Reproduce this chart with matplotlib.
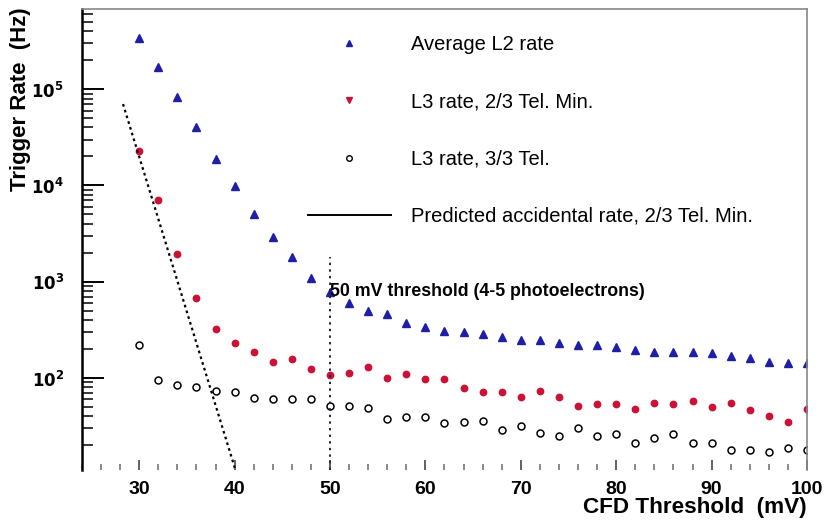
import math

import matplotlib
matplotlib.use("Agg")
import matplotlib.pyplot as plt
from matplotlib.lines import Line2D
from matplotlib.ticker import MultipleLocator, LogLocator, FuncFormatter, NullFormatter

plt.rcParams["font.family"] = ["Liberation Sans", "DejaVu Sans"]

# CFD threshold scan (mV) and measured rates (Hz)
threshold = list(range(30, 101, 2))
l2_rate = [3.4e5, 1.7e5, 8.3e4, 4.0e4, 1.9e4, 9.8e3, 5.1e3, 2.9e3, 1.8e3, 1.1e3,
           7.9e2, 6.0e2, 5.0e2, 4.6e2, 3.7e2, 3.4e2, 3.1e2, 3.0e2, 2.9e2, 2.7e2,
           2.5e2, 2.5e2, 2.3e2, 2.2e2, 2.2e2, 2.1e2, 1.95e2, 1.87e2, 1.87e2, 1.87e2,
           1.8e2, 1.7e2, 1.6e2, 1.48e2, 1.42e2, 1.42e2]
l3_two = [2.3e4, 7.1e3, 1.95e3, 6.8e2, 3.2e2, 2.3e2, 1.87e2, 1.48e2, 1.58e2, 1.24e2,
          1.07e2, 1.12e2, 1.3e2, 1.01e2, 1.1e2, 97, 97, 79, 71, 71,
          63, 74, 63, 51, 54, 54, 48, 55, 54, 58,
          50, 55, 47, 40, 35, 48]
l3_three = [2.2e2, 96, 85, 80, 74, 71, 62, 60, 60, 60,
            51, 51, 49, 38, 39, 39, 34, 35, 36, 29,
            32, 27, 25, 30, 25, 26, 21, 24, 26, 21,
            21, 18, 18, 17, 19, 18]

# predicted accidental rate for 2/3 telescope coincidence
pred_x = [28.3, 40.1]
pred_y = [7.0e4, 11.0]

cut_x = 50
cut_top = 1.8e3

BLUE = "#1f1fa6"
RED = "#cc1136"

fig = plt.figure(figsize=(8.28, 5.23), dpi=100, facecolor="white")
ax = fig.add_axes([82 / 828, 1 - 470 / 523, 725 / 828, 461 / 523])
ax.set_yscale("log")
ax.set_xlim(24, 100)
ax.set_ylim(11.1, 6.8e5)

ax.plot(threshold, l2_rate, ls="none", marker="^", ms=5.2, color=BLUE, mec=BLUE)
ax.plot(threshold, l3_two, ls="none", marker="o", ms=4.6, color=RED, mec=RED)
ax.plot(threshold, l3_three, ls="none", marker="o", ms=5, mfc="none", mec="black", mew=1.1)
ax.plot(pred_x, pred_y, color="black", lw=1.6, ls=(0, (1.2, 1.5)))
ax.plot([cut_x, cut_x], [ax.get_ylim()[0], cut_top], color="#202040", lw=1.4, ls=(0, (1.2, 2.2)))
ax.text(cut_x, 7.9e2, "50 mV threshold (4-5 photoelectrons)", fontsize=12.8,
        fontweight="bold", va="center", ha="left")

handles = [
    Line2D([], [], ls="none", marker="^", ms=5, color=BLUE),
    Line2D([], [], ls="none", marker="v", ms=5, color=RED),
    Line2D([], [], ls="none", marker="o", ms=4, mfc="none", mec="black"),
    Line2D([], [], color="black", lw=1.4),
]
labels = ["Average L2 rate", "L3 rate, 2/3 Tel. Min.", "L3 rate, 3/3 Tel.",
          "Predicted accidental rate, 2/3 Tel. Min."]
ax.legend(handles, labels, loc="upper left", bbox_to_anchor=(298 / 828, 1 - 25 / 523),
          bbox_transform=fig.transFigure, frameon=False, fontsize=14.5,
          handlelength=4.1, handletextpad=1.0, labelspacing=1.9, borderpad=0)

# axis frame: heavy left axis, light top/right, no bottom line
for side in ("top", "right"):
    ax.spines[side].set_color("#888888")
    ax.spines[side].set_linewidth(1.2)
ax.spines["left"].set_linewidth(1.8)
ax.spines["bottom"].set_visible(False)

ax.xaxis.set_major_locator(MultipleLocator(10))
ax.xaxis.set_minor_locator(MultipleLocator(2))
ax.yaxis.set_major_locator(LogLocator(base=10, numticks=10))
ax.yaxis.set_minor_locator(LogLocator(base=10, subs=range(2, 10), numticks=20))
ax.yaxis.set_major_formatter(FuncFormatter(lambda v, p: r"$\mathbf{10^{%d}}$" % round(math.log10(v))))
ax.yaxis.set_minor_formatter(NullFormatter())
ax.xaxis.set_major_formatter(FuncFormatter(lambda v, p: "%d" % v if v >= 30 else ""))

ax.tick_params(axis="x", which="major", direction="in", length=7, width=1.3, color="#555555",
               pad=8, labelsize=14)
ax.tick_params(axis="x", which="minor", direction="in", length=4, width=1.2, color="#777777")
ax.tick_params(axis="y", which="major", direction="in", length=16, width=1.4, pad=13, labelsize=12)
ax.tick_params(axis="y", which="minor", direction="in", length=8, width=1.1)
for lbl in ax.get_xticklabels():
    lbl.set_fontweight("bold")

fig.text(807 / 828, 1 - 507 / 523, "CFD Threshold  (mV)", fontsize=16.2, fontweight="bold",
         ha="right", va="center")
fig.text(21 / 828, 1 - 7 / 523, "Trigger Rate  (Hz)", fontsize=16, fontweight="bold",
         ha="center", va="top", rotation=90)

fig.savefig("out.png", dpi=100, facecolor="white")
